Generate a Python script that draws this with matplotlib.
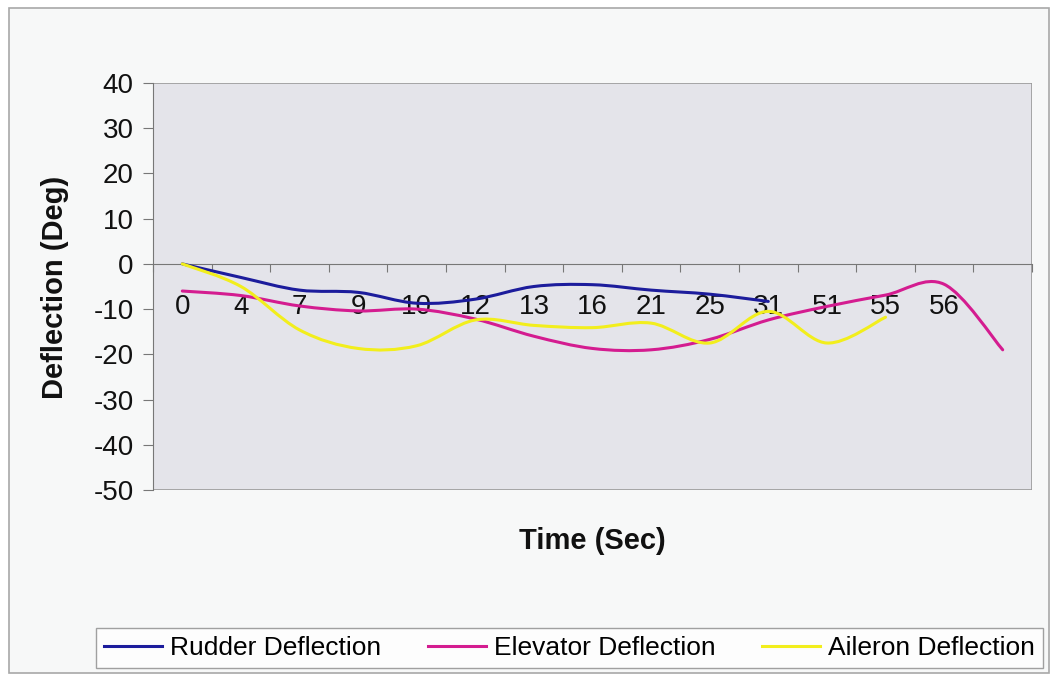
import numpy as np
import matplotlib.pyplot as plt
from matplotlib.path import Path
from matplotlib.patches import PathPatch, Rectangle
from matplotlib.lines import Line2D

plt.rcParams['font.family'] = ['Liberation Sans', 'DejaVu Sans']
plt.rcParams['axes.unicode_minus'] = False

# category labels (time, sec); the last category has no label
time_labels = ['0', '4', '7', '9', '10', '12', '13', '16', '21', '25', '31', '51', '55', '56', '']

rudder = [0, -3, -5.8, -6.3, -8.7, -7.8, -5, -4.6, -5.8, -6.7, -8.3]
elevator = [-6, -7, -9.3, -10.4, -10, -12.2, -16, -18.7, -19, -16.7, -12.4, -9.4, -6.9, -4.5, -19]
aileron = [0, -5, -14.6, -18.7, -18.1, -12.4, -13.6, -14.1, -13.1, -17.5, -10.5, -17.5, -11.8]

series = [
    ('Rudder Deflection', rudder, '#1c1c9c'),
    ('Elevator Deflection', elevator, '#d41c90'),
    ('Aileron Deflection', aileron, '#f2ee1c'),
]


def smooth_path(ys):
    # Excel-style smoothed line: cubic Bezier through the points (Catmull-Rom tangents)
    pts = np.column_stack([np.arange(len(ys)), np.asarray(ys, float)])
    verts = [pts[0]]
    codes = [Path.MOVETO]
    n = len(pts)
    for i in range(n - 1):
        p0 = pts[i - 1] if i > 0 else pts[i]
        p1, p2 = pts[i], pts[i + 1]
        p3 = pts[i + 2] if i + 2 < n else pts[i + 1]
        verts += [p1 + (p2 - p0) / 6, p2 - (p3 - p1) / 6, p2]
        codes += [Path.CURVE4] * 3
    return Path(verts, codes)


fig = plt.figure(figsize=(10.51, 6.75), dpi=100, facecolor='white')
# chart area border
fig.patches.append(Rectangle((9 / 1051, 2 / 675), 1040 / 1051, 665 / 675,
                             transform=fig.transFigure, facecolor='#f7f8f8',
                             edgecolor='#a8a8a8', lw=1.2, zorder=-10))

ax = fig.add_axes([153 / 1051, 1 - 490 / 675, 879 / 1051, 407 / 675])
ax.set_facecolor('#e4e4ea')

for name, vals, col in series:
    ax.add_patch(PathPatch(smooth_path(vals), fill=False, edgecolor=col, lw=2.2,
                           capstyle='round', joinstyle='round', zorder=3))

ax.set_xlim(-0.5, len(time_labels) - 0.5)
ax.set_ylim(-50, 40)
ax.set_yticks(np.arange(-50, 41, 10))

# x axis crosses at 0, tick marks between categories
ax.spines['bottom'].set_position(('data', 0))
ax.spines['bottom'].set_color('#777777')
ax.spines['left'].set_color('#777777')
for s in ['top', 'right']:
    ax.spines[s].set_visible(False)
ax.add_patch(Rectangle((0, 0), 1, 1, transform=ax.transAxes, fill=False,
                       edgecolor='#9a9a9a', lw=1.2, zorder=1))

ax.set_xticks(np.arange(-0.5, len(time_labels), 1))
ax.set_xticklabels([])
ax.set_xticks(np.arange(len(time_labels)), minor=True)
ax.set_xticklabels(time_labels, minor=True)
ax.tick_params(axis='x', which='major', direction='out', length=6, color='#777777')
ax.tick_params(axis='x', which='minor', length=0, pad=22, labelsize=20, labelcolor='#111111')
ax.tick_params(axis='y', direction='out', length=7, color='#777777', labelsize=20,
               labelcolor='#111111', pad=7)

fig.text(55 / 1051, 1 - 287 / 675, 'Deflection (Deg)', rotation=90, ha='center', va='center',
         fontsize=21, fontweight='bold', color='#111111')
fig.text(592 / 1051, 1 - 541 / 675, 'Time (Sec)', ha='center', va='center',
         fontsize=21, fontweight='bold', color='#111111')

handles = [Line2D([], [], color=col, lw=2.2) for _, _, col in series]
labels = [name for name, _, _ in series]
leg = fig.legend(handles, labels, loc='lower left', ncol=3, mode='expand',
                 bbox_to_anchor=(96 / 1051, 1 - 668 / 675, 947 / 1051, 46 / 675), fontsize=19,
                 frameon=True, fancybox=False, edgecolor='#8a8a8a', facecolor='white',
                 handlelength=2.2, handletextpad=0.3, columnspacing=0.6,
                 borderpad=0.3, borderaxespad=0)
leg.get_frame().set_linewidth(1.0)

fig.savefig('out.png', dpi=100)
